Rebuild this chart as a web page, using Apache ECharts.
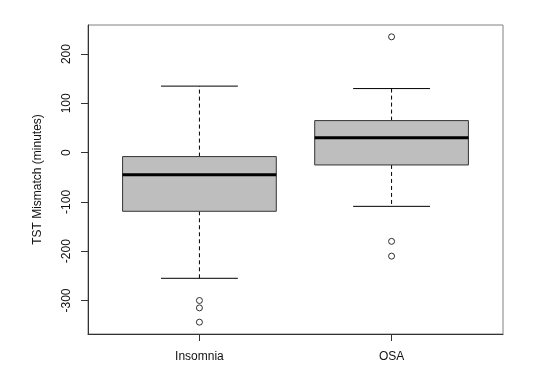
<!DOCTYPE html>
<html>
<head>
<meta charset="utf-8">
<script src="https://cdn.jsdelivr.net/npm/echarts@6/dist/echarts.min.js"></script>
<style>html,body{margin:0;padding:0;background:#fff;}#c{width:550px;height:392px;}</style>
</head>
<body>
<div id="c"></div>
<script>
const categories = ['Insomnia', 'OSA'];
const lowerWhisker = [-255, -109];
const q1 = [-119, -25];
const median = [-45, 30];
const q3 = [-8, 65];
const upperWhisker = [135, 130];
const insomniaOutliers = [-300, -315, -344];
const osaOutliers = [235, -180, -210];
const yTicks = [-300, -200, -100, 0, 100, 200];
const xTicks = [1, 2];

const boxData = categories.map((c, i) => [i + 1, lowerWhisker[i], q1[i], median[i], q3[i], upperWhisker[i]]);
const outlierData = [];
insomniaOutliers.forEach(v => outlierData.push([1, v]));
osaOutliers.forEach(v => outlierData.push([2, v]));

const chart = echarts.init(document.getElementById('c'), null, {renderer: 'canvas'});
const font = 'Liberation Sans, Arial, sans-serif';
chart.setOption({
  animation: false,
  backgroundColor: '#fff',
  grid: {left: 88, top: 25, right: 47, bottom: 58, show: true, borderColor: '#808080', borderWidth: 1, backgroundColor: 'transparent'},
  xAxis: {
    type: 'value', min: 0.42, max: 2.58,
    splitLine: {show: false},
    axisLine: {show: true, onZero: false, lineStyle: {color: '#333', width: 1}},
    axisTick: {show: true, customValues: xTicks, length: 7, inside: false, lineStyle: {color: '#333'}},
    axisLabel: {show: true, customValues: xTicks, margin: 17, color: '#111', fontFamily: font, fontSize: 12,
      formatter: v => categories[Math.round(v) - 1] || ''}
  },
  yAxis: {
    type: 'value', min: -368, max: 259,
    name: 'TST Mismatch (minutes)', nameLocation: 'middle', nameGap: 44,
    nameTextStyle: {color: '#111', fontFamily: font, fontSize: 12},
    splitLine: {show: false},
    axisLine: {show: true, onZero: false, lineStyle: {color: '#333', width: 1}},
    axisTick: {show: true, customValues: yTicks, length: 7, lineStyle: {color: '#333'}},
    axisLabel: {show: true, customValues: yTicks, rotate: 90, margin: 15, color: '#111', fontFamily: font, fontSize: 12}
  },
  series: [
    {
      type: 'custom',
      data: boxData,
      encode: {x: 0, y: [1, 2, 3, 4, 5]},
      clip: false,
      renderItem: function (params, api) {
        const x = api.value(0);
        const lo = api.value(1), b1 = api.value(2), md = api.value(3), b3 = api.value(4), hi = api.value(5);
        const hw = 0.4, cw = 0.2;
        const pc = (xx, yy) => api.coord([xx, yy]);
        const boxTL = pc(x - hw, b3), boxBR = pc(x + hw, b1);
        const lineStyle = {stroke: '#000', lineWidth: 1, fill: null};
        const dashed = {stroke: '#000', lineWidth: 1, lineDash: [4, 3], fill: null};
        const children = [
          {type: 'line', shape: {x1: pc(x, b3)[0], y1: pc(x, b3)[1], x2: pc(x, hi)[0], y2: pc(x, hi)[1]}, style: dashed},
          {type: 'line', shape: {x1: pc(x, b1)[0], y1: pc(x, b1)[1], x2: pc(x, lo)[0], y2: pc(x, lo)[1]}, style: dashed},
          {type: 'line', shape: {x1: pc(x - cw, hi)[0], y1: pc(x - cw, hi)[1], x2: pc(x + cw, hi)[0], y2: pc(x + cw, hi)[1]}, style: lineStyle},
          {type: 'line', shape: {x1: pc(x - cw, lo)[0], y1: pc(x - cw, lo)[1], x2: pc(x + cw, lo)[0], y2: pc(x + cw, lo)[1]}, style: lineStyle},
          {type: 'rect', shape: {x: boxTL[0], y: boxTL[1], width: boxBR[0] - boxTL[0], height: boxBR[1] - boxTL[1]},
            style: {fill: '#bebebe', stroke: '#333', lineWidth: 1}},
          {type: 'line', shape: {x1: pc(x - hw, md)[0], y1: pc(x - hw, md)[1], x2: pc(x + hw, md)[0], y2: pc(x + hw, md)[1]},
            style: {stroke: '#000', lineWidth: 3}}
        ];
        return {type: 'group', children: children};
      }
    },
    {
      type: 'scatter',
      data: outlierData,
      symbol: 'circle',
      symbolSize: 6,
      itemStyle: {color: '#fff', borderColor: '#000', borderWidth: 1},
      clip: false
    }
  ]
});
</script>
</body>
</html>
